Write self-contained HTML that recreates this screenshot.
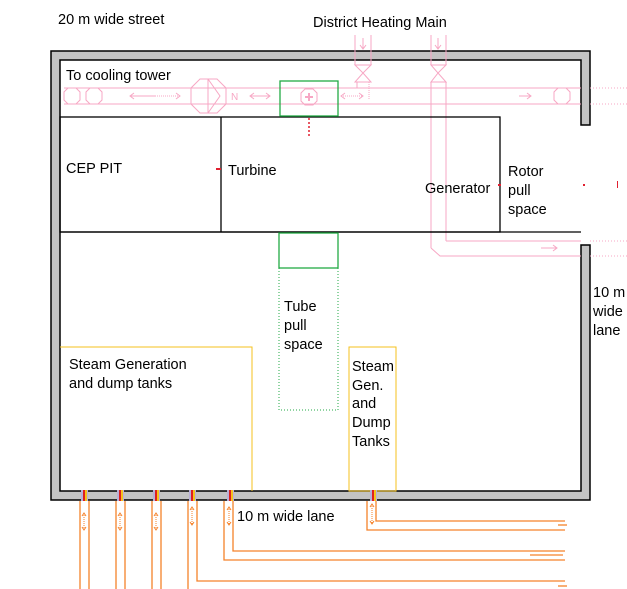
<!DOCTYPE html>
<html><head><meta charset="utf-8"><style>
html,body{margin:0;padding:0;background:#fff;}
svg{display:block;font-family:"Liberation Sans","DejaVu Sans",sans-serif;font-size:14.5px;}
</style></head><body>
<svg width="627" height="589" viewBox="0 0 627 589" xmlns="http://www.w3.org/2000/svg">
<path d="M51,51 H590 V125 H581 V60 H60 V491 H581 V245 H590 V500 H51 Z" fill="#c3c3c3" stroke="#000" stroke-width="1.5"/>
<g stroke="#f7a7c4" fill="none" stroke-width="1">
<line x1="64" y1="88" x2="581" y2="88"/><line x1="64" y1="104" x2="581" y2="104"/>
<line x1="590" y1="88" x2="627" y2="88" stroke-dasharray="1,2"/><line x1="590" y1="104" x2="627" y2="104" stroke-dasharray="1,2"/>
<polygon points="68,88 76,88 80,92 80,100 76,104 68,104 64,100 64,92"/>
<polygon points="90,88 98,88 102,92 102,100 98,104 90,104 86,100 86,92"/>
<polygon points="558,88 566,88 570,92 570,100 566,104 558,104 554,100 554,92"/>
<polygon points="200,79 217,79 226,88 226,104 217,113 200,113 191,104 191,88"/>
<line x1="208" y1="79" x2="208" y2="113"/><polyline points="208,79 220,96 208,113"/>
<text x="231" y="100" font-size="10" fill="#f7a7c4" stroke="none">N</text>
<line x1="130" y1="96" x2="155" y2="96"/><line x1="155" y1="96" x2="180" y2="96" stroke-dasharray="1,1"/>
<polyline points="134,93 130,96 134,99"/><polyline points="176,93 180,96 176,99"/>
<line x1="250" y1="96" x2="270" y2="96"/><polyline points="254,93 250,96 254,99"/><polyline points="266,93 270,96 266,99"/>
<line x1="341" y1="96" x2="363" y2="96" stroke-dasharray="1,1"/><polyline points="345,93 341,96 345,99"/><polyline points="359,93 363,96 359,99"/>
<line x1="519" y1="96" x2="531" y2="96"/><polyline points="527,93 531,96 527,99"/>
<polygon points="305,89 313,89 317,93 317,101 313,105 305,105 301,101 301,93"/>
<line x1="309" y1="93" x2="309" y2="101" stroke-width="2"/><line x1="305" y1="97" x2="313" y2="97" stroke-width="2"/>
<line x1="355" y1="35" x2="355" y2="65"/><line x1="371" y1="35" x2="371" y2="65"/>
<line x1="363" y1="38" x2="363" y2="48"/><polyline points="360,45 363,49 366,45"/>
<polygon points="355,65 371,65 363,73 371,82 355,82 363,73"/>
<line x1="357" y1="82" x2="357" y2="88"/><line x1="369" y1="82" x2="369" y2="100" stroke-dasharray="1,1"/>
<line x1="431" y1="35" x2="431" y2="65"/><line x1="446" y1="35" x2="446" y2="65"/>
<line x1="438" y1="38" x2="438" y2="48"/><polyline points="435,45 438,49 441,45"/>
<polygon points="431,65 446,65 438,73 446,82 431,82 438,73"/>
<line x1="431" y1="82" x2="431" y2="248"/><line x1="446" y1="82" x2="446" y2="241"/>
<line x1="446" y1="241" x2="581" y2="241"/><polyline points="431,248 440,256 581,256"/>
<line x1="590" y1="241" x2="627" y2="241" stroke-dasharray="1,2"/><line x1="590" y1="256" x2="627" y2="256" stroke-dasharray="1,2"/>
<line x1="541" y1="248" x2="557" y2="248"/><polyline points="553,245 557,248 553,251"/>
</g>
<g fill="none" stroke="#000" stroke-width="1.3">
<rect x="60" y="117" width="440" height="115"/>
<line x1="221" y1="117" x2="221" y2="232"/>
<line x1="60" y1="232" x2="581" y2="232"/>
</g>
<rect x="280" y="81" width="58" height="35" fill="none" stroke="#22aa44" stroke-width="1.3"/>
<rect x="279" y="233" width="59" height="35" fill="none" stroke="#22aa44" stroke-width="1.3"/>
<path d="M279,268 V410 H338 V268" fill="none" stroke="#22aa44" stroke-dasharray="1,2"/>
<line x1="309" y1="118" x2="309" y2="136" stroke="#e02030" stroke-width="1.5" stroke-dasharray="2,2"/>
<line x1="216" y1="169" x2="221" y2="169" stroke="#e02030" stroke-width="2"/>
<rect x="498" y="184" width="3" height="2" fill="#e02030"/>
<rect x="583" y="184" width="2" height="2" fill="#e02030"/>
<rect x="617" y="181" width="1" height="7" fill="#e02030"/>
<path d="M60,347 H252 V491" fill="none" stroke="#f6c21c"/>
<rect x="349" y="347" width="47" height="144" fill="none" stroke="#f6c21c"/>
<g>
<rect x="81" y="490" width="7" height="11" fill="#b8b0d8"/><rect x="83" y="490" width="2" height="11" fill="#e02020"/><rect x="85" y="490" width="2" height="11" fill="#f6c21c"/>
<rect x="117" y="490" width="7" height="11" fill="#b8b0d8"/><rect x="119" y="490" width="2" height="11" fill="#e02020"/><rect x="121" y="490" width="2" height="11" fill="#f6c21c"/>
<rect x="153" y="490" width="7" height="11" fill="#b8b0d8"/><rect x="155" y="490" width="2" height="11" fill="#e02020"/><rect x="157" y="490" width="2" height="11" fill="#f6c21c"/>
<rect x="189" y="490" width="7" height="11" fill="#b8b0d8"/><rect x="191" y="490" width="2" height="11" fill="#e02020"/><rect x="193" y="490" width="2" height="11" fill="#f6c21c"/>
<rect x="227" y="490" width="7" height="11" fill="#b8b0d8"/><rect x="229" y="490" width="2" height="11" fill="#e02020"/><rect x="231" y="490" width="2" height="11" fill="#f6c21c"/>
<rect x="370" y="490" width="7" height="11" fill="#b8b0d8"/><rect x="372" y="490" width="2" height="11" fill="#e02020"/><rect x="374" y="490" width="2" height="11" fill="#f6c21c"/>
</g>
<g stroke="#f5822a" fill="none" stroke-width="1.3">
<line x1="80" y1="501" x2="80" y2="589"/><line x1="89" y1="501" x2="89" y2="589"/>
<line x1="116" y1="501" x2="116" y2="589"/><line x1="125" y1="501" x2="125" y2="589"/>
<line x1="152" y1="501" x2="152" y2="589"/><line x1="161" y1="501" x2="161" y2="589"/>
<line x1="188" y1="501" x2="188" y2="589"/><polyline points="197,501 197,581 565,581"/>
<polyline points="224,501 224,560 565,560"/><polyline points="233,501 233,551 565,551"/>
<polyline points="367,501 367,530 565,530"/><polyline points="376,501 376,521 565,521"/>
<line x1="558" y1="525" x2="567" y2="525"/><line x1="530" y1="555" x2="563" y2="555"/><line x1="558" y1="586" x2="567" y2="586"/>
</g>
<g stroke="#f5822a" fill="none" stroke-width="1">
<line x1="84" y1="513" x2="84" y2="530" stroke-dasharray="1,1"/><polyline points="82,516 84,513 86,516"/><polyline points="82,527 84,530 86,527"/>
<line x1="120" y1="513" x2="120" y2="530" stroke-dasharray="1,1"/><polyline points="118,516 120,513 122,516"/><polyline points="118,527 120,530 122,527"/>
<line x1="156" y1="513" x2="156" y2="530" stroke-dasharray="1,1"/><polyline points="154,516 156,513 158,516"/><polyline points="154,527 156,530 158,527"/>
<line x1="192" y1="507" x2="192" y2="525" stroke-dasharray="1,1"/><polyline points="190,510 192,507 194,510"/><polyline points="190,522 192,525 194,522"/>
<line x1="229" y1="507" x2="229" y2="525" stroke-dasharray="1,1"/><polyline points="227,510 229,507 231,510"/><polyline points="227,522 229,525 231,522"/>
<line x1="372" y1="504" x2="372" y2="524" stroke-dasharray="1,1"/><polyline points="370,507 372,504 374,507"/><polyline points="370,521 372,524 374,521"/>
</g>
<g fill="#000">
<text x="58" y="24">20 m wide street</text>
<text x="313" y="27">District Heating Main</text>
<text x="66" y="80">To cooling tower</text>
<text x="66" y="173">CEP PIT</text>
<text x="228" y="175">Turbine</text>
<text x="425" y="193">Generator</text>
<text x="508" y="176">Rotor</text>
<text x="508" y="195">pull</text>
<text x="508" y="214">space</text>
<text x="284" y="311">Tube</text>
<text x="284" y="330">pull</text>
<text x="284" y="349">space</text>
<text x="69" y="369">Steam Generation</text>
<text x="69" y="388">and dump tanks</text>
<text x="352" y="371">Steam</text>
<text x="352" y="390">Gen.</text>
<text x="352" y="408">and</text>
<text x="352" y="427">Dump</text>
<text x="352" y="446">Tanks</text>
<text x="593" y="297">10 m</text>
<text x="593" y="316">wide</text>
<text x="593" y="335">lane</text>
<text x="237" y="521">10 m wide lane</text>
</g>
</svg>
</body></html>
